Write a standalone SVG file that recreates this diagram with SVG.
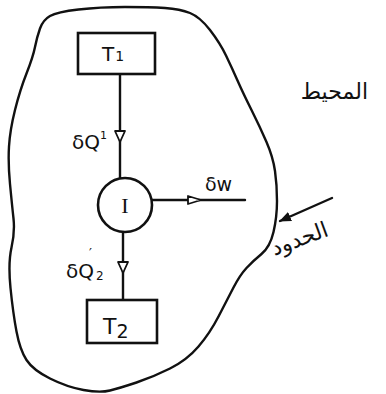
<svg xmlns="http://www.w3.org/2000/svg" width="386" height="394" viewBox="0 0 386 394">
<style>
.ln{fill:none;stroke:#111;stroke-width:2.4;stroke-linecap:round;stroke-linejoin:round}
.box{fill:#fff;stroke:#111;stroke-width:2.6}
.tri{fill:#fff;stroke:#111;stroke-width:1.8;stroke-linejoin:round}
.t{font-family:"DejaVu Sans","Liberation Sans",sans-serif;fill:#111}
.ar{font-family:"DejaVu Sans","Noto Sans",sans-serif;fill:#111;font-size:22px}
</style>
<defs>
<marker id="solid" markerWidth="12" markerHeight="12" refX="11" refY="6" orient="auto" markerUnits="userSpaceOnUse">
<path d="M0,1 L12,6 L0,11 Z" fill="#111"/>
</marker>
</defs>
<rect width="386" height="394" fill="#fff"/>
<g id="boundary">
<path class="ln" d="M50,16 Q57,12 78.5,9.5 Q100,7 125,7 Q150,7 165,8 Q180,9 190,13 Q200,17 210,30 Q220,43 226,55.5 Q232,68 237.5,80.5 Q243,93 251.5,110 Q260,127 266.5,142 Q273,157 275,171 Q277,185 277,201 Q277,217 273.5,232 Q270,247 261.5,254 Q253,261 246.5,268 Q240,275 233.5,287.5 Q227,300 218.5,316.5 Q210,333 198.5,346.5 Q187,360 170,368.5 Q153,377 136.5,382.5 Q120,388 110,390.5 Q100,393 83.5,390 Q67,387 50,378.5 Q33,370 26.5,360 Q20,350 16.5,331.5 Q13,313 10.5,288 Q8,263 11.5,247.5 Q15,232 13.5,218.5 Q12,205 10,184 Q8,163 9,146.5 Q10,130 15,110 Q20,90 26.5,73.5 Q33,57 35,47 Q37,37 40,28.5 Q43,20 50,16 Z"/>
</g>
<g id="connectors">
<line class="ln" x1="120" y1="74" x2="120" y2="178"/>
<polygon class="tri" points="115,131 125,131 120,142"/>
<line class="ln" x1="123" y1="232" x2="123" y2="300"/>
<polygon class="tri" points="118,262 128,262 123,273"/>
<line class="ln" x1="152" y1="200" x2="245" y2="200"/>
<polygon class="tri" points="188,196 188,204 201,200"/>
<line class="ln" x1="332" y1="198" x2="280" y2="221" marker-end="url(#solid)"/>
</g>
<g id="T1">
<rect class="box" x="78" y="33" width="77" height="41"/>
<text class="t" x="102" y="61" font-size="20">T<tspan font-size="14" dx="1">1</tspan></text>
</g>
<g id="I">
<circle class="box" cx="125" cy="205" r="27"/>
<text x="125" y="213" font-family="Liberation Serif, serif" font-size="22" text-anchor="middle" fill="#111">I</text>
</g>
<g id="T2">
<rect class="box" x="87" y="300" width="70" height="43"/>
<text class="t" x="103" y="334" font-size="22">T<tspan font-size="19" dy="4">2</tspan></text>
</g>
<g id="labels">
<text class="t" x="72" y="149" font-size="20">δQ<tspan font-size="11" dy="-10">1</tspan></text>
<text class="t" x="66" y="278" font-size="20">δQ</text>
<text class="t" x="89" y="257" font-size="13">′</text>
<text class="t" x="96" y="280" font-size="12">2</text>
<text class="t" x="205" y="191" font-size="19">δw</text>
<text class="ar" x="368" y="99" text-anchor="end">المحيط</text>
<text class="ar" x="300" y="246" text-anchor="middle" transform="rotate(-20 300 240)">الحدود</text>
</g>
</svg>
